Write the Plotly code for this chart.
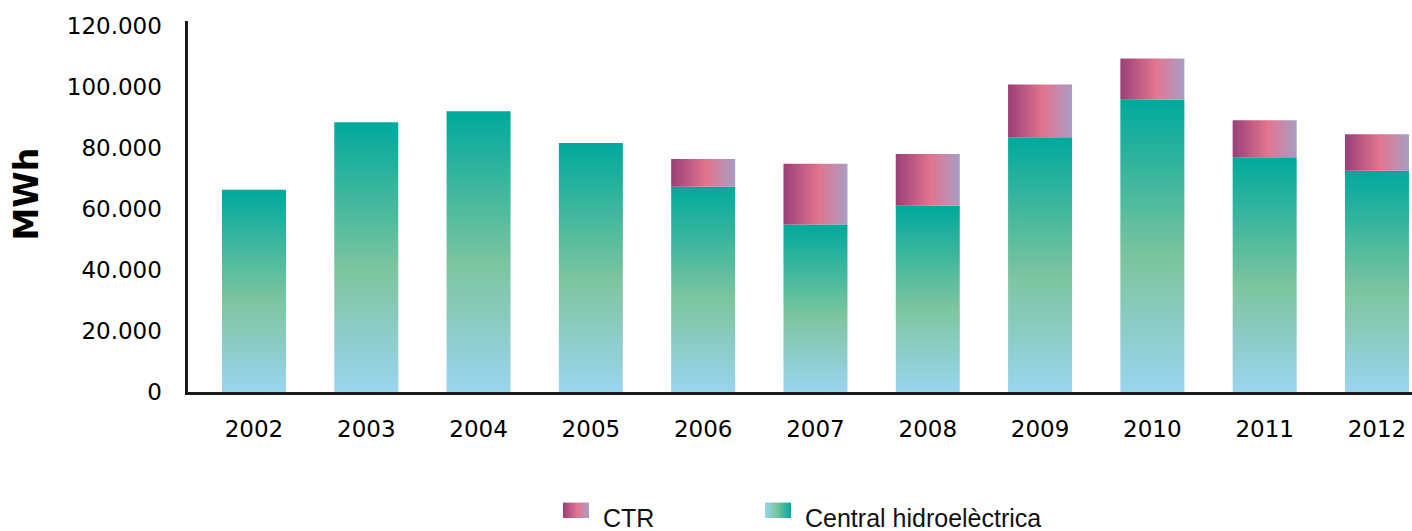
import plotly.graph_objects as go

# ---------------- data ----------------
years = ["2002", "2003", "2004", "2005", "2006", "2007", "2008", "2009", "2010", "2011", "2012"]
hydro = [66300, 88400, 92000, 81600, 67300, 54900, 61100, 83500, 95800, 77000, 72500]
ctr = [0, 0, 0, 0, 9100, 19900, 16900, 17300, 13500, 12100, 12000]
series_names = ["CTR", "Central hidroelèctrica"]
y_ticks = [0, 20000, 40000, 60000, 80000, 100000, 120000]
y_title = "MWh"

# ---------------- styling / layout ----------------
W, H = 1412, 531
# rendered paper occupies screen rows PAPER_TOP..PAPER_BOTTOM
PAPER_TOP, PAPER_BOTTOM = 5.0, 517.5


def py(screen_y):
    """paper fraction for a target screen row"""
    return 1 - (screen_y - PAPER_TOP) / (PAPER_BOTTOM - PAPER_TOP)


BAR_WIDTH = 0.57
HYDRO_SCALE = [[0, "#9ad5ef"], [0.45, "#7dc59f"], [1, "#00a99d"]]
CTR_SCALE = [[0, "#9a3f78"], [0.55, "#e2758f"], [1, "#a99dc4"]]
HYDRO_LEGEND_SCALE = [[0, "#96d3ec"], [0.45, "#7dc59f"], [1, "#00a99d"]]
AXIS_COLOR = "#1a1a1a"
TICK_FONT = dict(family="DejaVu Sans", size=23, color="#000000")
LEGEND_FONT = dict(family="Liberation Sans", size=25, color="#111111")

fig = go.Figure()

for i, (h, c) in enumerate(zip(hydro, ctr)):
    x0, x1 = i - BAR_WIDTH / 2, i + BAR_WIDTH / 2
    fig.add_trace(go.Scatter(
        x=[x0, x1, x1, x0, x0], y=[0, 0, h, h, 0],
        fill="toself", mode="lines", line=dict(width=0, color="rgba(0,0,0,0)"),
        fillgradient=dict(type="vertical", colorscale=HYDRO_SCALE),
        name=series_names[1], showlegend=False, hoverinfo="skip",
    ))
    if c > 0:
        fig.add_trace(go.Scatter(
            x=[x0, x1, x1, x0, x0], y=[h, h, h + c, h + c, h],
            fill="toself", mode="lines", line=dict(width=0, color="rgba(0,0,0,0)"),
            fillgradient=dict(type="horizontal", colorscale=CTR_SCALE),
            name=series_names[0], showlegend=False, hoverinfo="skip",
        ))

# ---------------- custom legend (overlay axes in paper units) ----------------
SWATCH_TOP, SWATCH_BOTTOM = 502, 531
SWATCH_W = 26
legend_items = [
    (series_names[0], 563, CTR_SCALE),
    (series_names[1], 765, HYDRO_LEGEND_SCALE),
]
annotations = []
for name, lx, scale in legend_items:
    yt, yb = py(SWATCH_TOP), max(py(SWATCH_BOTTOM), 0)
    fig.add_trace(go.Scatter(
        x=[lx, lx + SWATCH_W, lx + SWATCH_W, lx, lx],
        y=[yb, yb, yt, yt, yb],
        xaxis="x2", yaxis="y2",
        fill="toself", mode="lines", line=dict(width=0, color="rgba(0,0,0,0)"),
        fillgradient=dict(type="horizontal", colorscale=scale),
        showlegend=False, hoverinfo="skip",
    ))
    annotations.append(dict(
        text=name, xref="paper", yref="paper",
        x=(lx + SWATCH_W + 12) / W, y=py(518),
        xanchor="left", yanchor="middle", showarrow=False, font=LEGEND_FONT,
    ))

annotations.append(dict(
    text="<b>" + y_title + "</b>", xref="paper", yref="paper",
    x=27 / W, y=py(192.5), xanchor="center", yanchor="middle",
    textangle=-90, showarrow=False,
    font=dict(family="DejaVu Sans", size=33, color="#000000"),
))

fig.update_layout(
    width=W, height=H,
    margin=dict(l=0, r=0, t=0, b=0),
    paper_bgcolor="white", plot_bgcolor="rgba(0,0,0,0)",
    separators=",.",
    showlegend=False,
    xaxis=dict(
        domain=[187.5 / W, 1], range=[-0.592, 10.312],
        tickvals=list(range(len(years))), ticktext=years,
        showline=True, linecolor=AXIS_COLOR, linewidth=3,
        showgrid=False, zeroline=False, ticks="",
        tickfont=TICK_FONT, ticklabelstandoff=14,
        fixedrange=True,
    ),
    yaxis=dict(
        domain=[py(391), py(18)], range=[0, 121630],
        tickvals=y_ticks, tickformat=",.0f",
        showline=True, linecolor=AXIS_COLOR, linewidth=3,
        showgrid=False, zeroline=False, ticks="",
        tickfont=TICK_FONT, ticklabelstandoff=18,
        fixedrange=True,
    ),
    xaxis2=dict(domain=[0, 1], range=[0, W], anchor="y2", visible=False, fixedrange=True),
    yaxis2=dict(domain=[0, 1], range=[0, 1], anchor="x2", visible=False, fixedrange=True),
    annotations=annotations,
)

fig.write_html(
    "out.html",
    config={"displayModeBar": False},
    post_script="document.body.style.margin='0';document.body.style.overflow='hidden';",
)
